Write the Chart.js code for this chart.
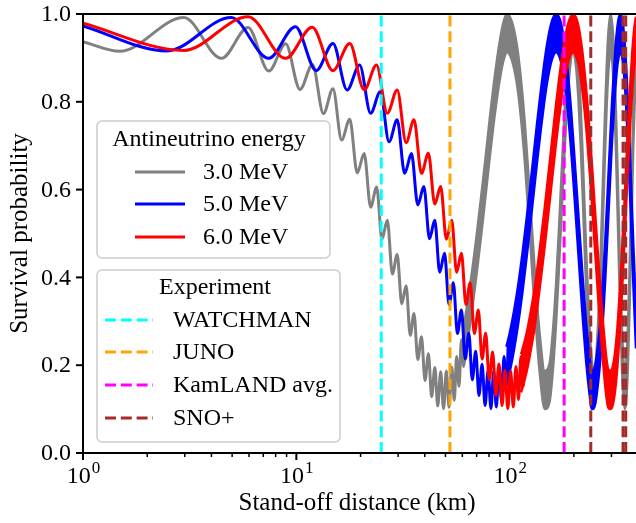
<!DOCTYPE html>
<html lang="en">
<head>
    <meta charset="UTF-8">
    <title>Reactor antineutrino survival probability</title>
    <script src="https://cdn.jsdelivr.net/npm/chart.js"></script>
    <style>
        body {
            margin: 0;
            background: #fff;
        }
        #wrap {
            position: relative;
            width: 636px;
            height: 523px;
        }
    </style>
</head>
<body>

<div id="wrap"><canvas id="survivalChart" width="636" height="523"></canvas></div>

<script>
    // Resolved oscillation (peaks / troughs), distance in km
    const distanceGray = [1.0, 1.49, 2.97, 4.46, 5.94, 7.43, 8.91, 10.4, 11.9, 13.4, 14.85, 16.3, 17.8, 19.3, 20.8, 22.3, 23.8, 25.2, 26.7, 28.2, 29.7, 31.2, 32.7, 34.2, 35.6, 37.1, 38.6, 40.1, 41.6, 43.1, 44.6, 46.0, 47.5, 49.0, 50.5, 52.0, 53.5, 55.0, 56.4, 57.9, 59.4, 60.9, 62.4];
    const survivalGray = [0.937, 0.915, 0.992, 0.899, 0.969, 0.870, 0.932, 0.828, 0.885, 0.773, 0.830, 0.713, 0.760, 0.638, 0.682, 0.560, 0.606, 0.487, 0.530, 0.408, 0.452, 0.340, 0.381, 0.268, 0.318, 0.213, 0.265, 0.165, 0.226, 0.128, 0.195, 0.107, 0.185, 0.101, 0.187, 0.104, 0.196, 0.120, 0.220, 0.152, 0.258, 0.197, 0.305];

    const distanceBlue = [1.0, 2.48, 4.95, 7.43, 9.9, 12.4, 14.85, 17.3, 19.8, 22.3, 24.75, 27.2, 29.7, 32.2, 34.65, 37.1, 39.6, 42.1, 44.55, 47.0, 49.5, 52.0, 54.45, 56.9, 59.4, 61.9, 64.35, 66.8, 69.3, 71.8, 74.25, 76.7, 79.2, 81.7, 84.2, 86.6, 89.1, 91.6, 94.1, 96.5, 99.0];
    const survivalBlue = [0.973, 0.916, 0.992, 0.899, 0.971, 0.871, 0.933, 0.827, 0.884, 0.774, 0.823, 0.709, 0.759, 0.637, 0.682, 0.565, 0.607, 0.488, 0.530, 0.412, 0.455, 0.338, 0.388, 0.272, 0.326, 0.214, 0.273, 0.167, 0.232, 0.131, 0.202, 0.108, 0.188, 0.101, 0.187, 0.105, 0.197, 0.122, 0.220, 0.152, 0.258];

    const distanceRed = [1.0, 2.97, 5.94, 8.91, 11.88, 14.85, 17.8, 20.8, 23.75, 26.7, 29.7, 32.7, 35.6, 38.6, 41.6, 44.55, 47.5, 50.5, 53.5, 56.4, 59.4, 62.4, 65.3, 68.3, 71.3, 74.25, 77.2, 80.2, 83.2, 86.1, 89.1, 92.1, 95.0, 98.0, 101, 104, 107, 110, 113, 116];
    const survivalRed = [0.979, 0.917, 0.994, 0.899, 0.970, 0.871, 0.933, 0.827, 0.884, 0.774, 0.827, 0.707, 0.759, 0.637, 0.683, 0.567, 0.607, 0.487, 0.530, 0.412, 0.455, 0.338, 0.388, 0.272, 0.326, 0.214, 0.273, 0.167, 0.230, 0.131, 0.203, 0.108, 0.188, 0.101, 0.187, 0.105, 0.197, 0.122, 0.220, 0.152];

    // Far distances: oscillation too fast to resolve, kept as top / bottom edge of the band
    const bandGrayDistance = [60.9, 65, 70, 75, 80, 85, 90, 94, 97, 102, 108, 113, 118, 123, 128, 133, 138, 146, 154, 160, 165, 170, 175, 180, 185, 190, 198, 205, 210, 215, 220, 225, 230, 235, 240, 247, 255, 260, 265, 270, 275, 280, 285, 290, 297, 305, 310, 315, 320, 325, 330, 335, 340, 346, 352, 358, 365, 372, 380, 391];
    const bandGrayUpper = [0.287, 0.375, 0.495, 0.620, 0.745, 0.855, 0.940, 0.985, 1.0, 0.985, 0.930, 0.850, 0.745, 0.618, 0.490, 0.372, 0.275, 0.187, 0.205, 0.286, 0.384, 0.503, 0.632, 0.756, 0.863, 0.945, 1.0, 0.964, 0.894, 0.794, 0.673, 0.545, 0.422, 0.316, 0.237, 0.187, 0.227, 0.300, 0.402, 0.524, 0.653, 0.775, 0.879, 0.955, 1.0, 0.955, 0.879, 0.775, 0.652, 0.524, 0.403, 0.300, 0.227, 0.187, 0.207, 0.280, 0.422, 0.597, 0.793, 0.974];
    const bandGrayLower = [0.200, 0.288, 0.408, 0.533, 0.658, 0.768, 0.853, 0.898, 0.913, 0.898, 0.843, 0.763, 0.658, 0.531, 0.403, 0.285, 0.188, 0.100, 0.118, 0.199, 0.297, 0.416, 0.545, 0.669, 0.776, 0.858, 0.913, 0.877, 0.807, 0.707, 0.586, 0.458, 0.335, 0.229, 0.150, 0.100, 0.140, 0.213, 0.315, 0.437, 0.566, 0.688, 0.792, 0.868, 0.913, 0.868, 0.792, 0.688, 0.565, 0.437, 0.316, 0.213, 0.140, 0.100, 0.120, 0.193, 0.335, 0.510, 0.706, 0.887];

    const bandBlueDistance = [96.5, 100, 105, 110, 115, 120, 125, 130, 135, 140, 145, 150, 157, 165, 172, 180, 187, 194, 200, 207, 214, 221, 228, 235, 243, 252, 260, 267, 274, 281, 288, 295, 302, 309, 316, 323, 330, 338, 346, 354, 362, 370, 380, 391];
    const bandBlueUpper = [0.242, 0.272, 0.325, 0.387, 0.457, 0.532, 0.609, 0.685, 0.759, 0.825, 0.884, 0.933, 0.980, 1.0, 0.987, 0.940, 0.870, 0.780, 0.691, 0.585, 0.482, 0.384, 0.299, 0.236, 0.187, 0.200, 0.250, 0.310, 0.395, 0.490, 0.595, 0.700, 0.800, 0.880, 0.945, 0.985, 1.0, 0.984, 0.933, 0.851, 0.745, 0.625, 0.472, 0.325];
    const bandBlueLower = [0.157, 0.185, 0.238, 0.300, 0.370, 0.445, 0.522, 0.598, 0.672, 0.738, 0.797, 0.846, 0.893, 0.913, 0.900, 0.853, 0.783, 0.693, 0.604, 0.498, 0.395, 0.297, 0.212, 0.149, 0.100, 0.113, 0.163, 0.223, 0.308, 0.403, 0.508, 0.613, 0.713, 0.793, 0.858, 0.898, 0.913, 0.897, 0.846, 0.764, 0.658, 0.538, 0.385, 0.238];

    const bandRedDistance = [113, 115, 120, 125, 130, 135, 140, 145, 150, 155, 160, 165, 170, 175, 180, 187, 198, 208, 215, 222, 230, 238, 245, 252, 260, 268, 275, 283, 290, 296, 304, 312, 320, 328, 336, 344, 352, 360, 368, 376, 384, 391];
    const bandRedUpper = [0.225, 0.237, 0.272, 0.316, 0.365, 0.422, 0.484, 0.546, 0.610, 0.673, 0.735, 0.794, 0.847, 0.894, 0.933, 0.974, 1.0, 0.981, 0.944, 0.890, 0.812, 0.719, 0.631, 0.541, 0.442, 0.352, 0.286, 0.222, 0.190, 0.187, 0.196, 0.229, 0.286, 0.362, 0.455, 0.553, 0.657, 0.756, 0.844, 0.916, 0.968, 0.994];
    const bandRedLower = [0.138, 0.150, 0.185, 0.229, 0.278, 0.335, 0.397, 0.459, 0.523, 0.586, 0.648, 0.707, 0.760, 0.807, 0.846, 0.887, 0.913, 0.894, 0.857, 0.803, 0.725, 0.632, 0.544, 0.454, 0.355, 0.265, 0.199, 0.135, 0.103, 0.100, 0.109, 0.142, 0.199, 0.275, 0.368, 0.466, 0.570, 0.669, 0.757, 0.829, 0.881, 0.907];

    const energyLabels = ['3.0 MeV', '5.0 MeV', '6.0 MeV'];
    const energyColors = ['#808080', '#0000ff', '#ff0000'];

    const experimentNames = ['WATCHMAN', 'JUNO', 'KamLAND avg.', 'SNO+'];
    const experimentDistances = [[25], [52.5], [180], [240, 340, 350]];
    const experimentColors = ['#00ffff', '#ffa500', '#ff00ff', '#a52a2a'];

    const yTicks = [0, 0.2, 0.4, 0.6, 0.8, 1.0];
    const yTickLabels = ['0.0', '0.2', '0.4', '0.6', '0.8', '1.0'];
    const xMajorTicks = [1, 10, 100];
    const xTickExponents = ['0', '1', '2'];
    const xMinorTicks = [2, 3, 4, 5, 6, 7, 8, 9, 20, 30, 40, 50, 60, 70, 80, 90, 200, 300];

    const FONT = '"Liberation Serif", "DejaVu Serif", serif';
    const DASH = [11, 4.8];

    function toPoints(xs, ys) {
        return xs.map((x, i) => ({ x: x, y: ys[i] }));
    }

    const datasets = [];

    // dashed experiment lines on top
    experimentDistances.forEach((list, i) => {
        list.forEach(d => {
            datasets.push({
                data: [{ x: d, y: 0 }, { x: d, y: 1 }],
                borderColor: experimentColors[i],
                borderWidth: 3,
                borderDash: DASH,
                pointRadius: 0
            });
        });
    });

    // curves: red above blue above gray
    const curves = [
        [distanceRed, survivalRed, bandRedDistance, bandRedUpper, bandRedLower, 2],
        [distanceBlue, survivalBlue, bandBlueDistance, bandBlueUpper, bandBlueLower, 1],
        [distanceGray, survivalGray, bandGrayDistance, bandGrayUpper, bandGrayLower, 0]
    ];
    curves.forEach(c => {
        const color = energyColors[c[5]];
        datasets.push({
            data: toPoints(c[0], c[1]),
            borderColor: color,
            borderWidth: 3,
            pointRadius: 0,
            cubicInterpolationMode: 'monotone'
        });
        datasets.push({
            data: toPoints(c[2], c[3]),
            borderColor: color,
            borderWidth: 2.5,
            pointRadius: 0,
            cubicInterpolationMode: 'monotone'
        });
        datasets.push({
            data: toPoints(c[2], c[4]),
            borderColor: color,
            backgroundColor: color,
            borderWidth: 2.5,
            pointRadius: 0,
            cubicInterpolationMode: 'monotone',
            fill: '-1'
        });
    });

    function legendBox(ctx, x, y, w, h) {
        ctx.beginPath();
        ctx.roundRect(x, y, w, h, 5);
        ctx.fillStyle = 'rgba(255,255,255,0.85)';
        ctx.fill();
        ctx.strokeStyle = '#cccccc';
        ctx.lineWidth = 1.5;
        ctx.stroke();
        ctx.fillStyle = '#000';
    }

    const decor = {
        id: 'decor',
        afterDraw(chart) {
            const { ctx, chartArea: a, scales: { x, y } } = chart;
            ctx.save();

            // spines
            ctx.strokeStyle = '#000';
            ctx.lineWidth = 2;
            ctx.lineCap = 'square';
            ctx.beginPath();
            ctx.moveTo(a.right + 2, a.top);
            ctx.lineTo(a.left, a.top);
            ctx.lineTo(a.left, a.bottom);
            ctx.lineTo(a.right + 2, a.bottom);
            ctx.stroke();
            ctx.lineCap = 'butt';

            // y ticks
            ctx.fillStyle = '#000';
            ctx.font = '24px ' + FONT;
            ctx.textAlign = 'right';
            ctx.textBaseline = 'middle';
            yTicks.forEach((v, i) => {
                const py = y.getPixelForValue(v);
                ctx.lineWidth = 2;
                ctx.beginPath();
                ctx.moveTo(a.left, py);
                ctx.lineTo(a.left - 7, py);
                ctx.stroke();
                ctx.fillText(yTickLabels[i], a.left - 12, py + 1);
            });

            // x ticks
            xMinorTicks.forEach(v => {
                const px = x.getPixelForValue(v);
                ctx.lineWidth = 1.5;
                ctx.beginPath();
                ctx.moveTo(px, a.bottom);
                ctx.lineTo(px, a.bottom + 4);
                ctx.stroke();
            });
            ctx.textBaseline = 'alphabetic';
            xMajorTicks.forEach((v, i) => {
                const px = x.getPixelForValue(v);
                ctx.lineWidth = 2;
                ctx.beginPath();
                ctx.moveTo(px, a.bottom);
                ctx.lineTo(px, a.bottom + 7);
                ctx.stroke();
                ctx.font = '24px ' + FONT;
                const wBase = ctx.measureText('10').width;
                ctx.font = '17px ' + FONT;
                const wExp = ctx.measureText(xTickExponents[i]).width;
                const left = px - (wBase + wExp) / 2;
                ctx.textAlign = 'left';
                ctx.font = '24px ' + FONT;
                ctx.fillText('10', left, 483);
                ctx.font = '17px ' + FONT;
                ctx.fillText(xTickExponents[i], left + wBase + 1, 473);
            });

            // axis titles
            ctx.font = '25px ' + FONT;
            ctx.textAlign = 'center';
            ctx.textBaseline = 'middle';
            ctx.fillText('Stand-off distance (km)', 357, 503);
            ctx.save();
            ctx.translate(20, (a.top + a.bottom) / 2);
            ctx.rotate(-Math.PI / 2);
            ctx.fillText('Survival probability', 0, 0);
            ctx.restore();

            // legend: energies
            legendBox(ctx, 97, 121, 233, 137);
            ctx.font = '24px ' + FONT;
            ctx.textAlign = 'center';
            ctx.fillText('Antineutrino energy', 209, 140);
            ctx.textAlign = 'left';
            const eRows = [172, 204, 237];
            energyLabels.forEach((lab, i) => {
                ctx.strokeStyle = energyColors[i];
                ctx.lineWidth = 3;
                ctx.beginPath();
                ctx.moveTo(135, eRows[i]);
                ctx.lineTo(185, eRows[i]);
                ctx.stroke();
                ctx.fillStyle = '#000';
                ctx.fillText(lab, 203, eRows[i] + 1);
            });

            // legend: experiments
            legendBox(ctx, 97, 270, 243, 172);
            ctx.textAlign = 'center';
            ctx.fillText('Experiment', 215, 288);
            ctx.textAlign = 'left';
            const xRows = [320, 352, 385, 418];
            experimentNames.forEach((lab, i) => {
                ctx.strokeStyle = experimentColors[i];
                ctx.lineWidth = 3;
                ctx.setLineDash(DASH);
                ctx.beginPath();
                ctx.moveTo(105, xRows[i]);
                ctx.lineTo(153, xRows[i]);
                ctx.stroke();
                ctx.setLineDash([]);
                ctx.fillStyle = '#000';
                ctx.fillText(lab, 173, xRows[i] + 1);
            });

            ctx.restore();
        }
    };

    new Chart(document.getElementById('survivalChart').getContext('2d'), {
        type: 'line',
        data: { datasets: datasets },
        options: {
            responsive: false,
            animation: false,
            devicePixelRatio: 1,
            layout: { padding: { top: 14, right: 0, left: 0, bottom: 0 } },
            plugins: {
                legend: { display: false },
                tooltip: { enabled: false }
            },
            scales: {
                x: {
                    type: 'logarithmic',
                    min: 1,
                    max: 391,
                    ticks: { display: false },
                    grid: { display: false },
                    border: { display: false },
                    afterFit(s) { s.height = 70; }
                },
                y: {
                    min: 0,
                    max: 1,
                    ticks: { display: false },
                    grid: { display: false },
                    border: { display: false },
                    afterFit(s) { s.width = 83; }
                }
            }
        },
        plugins: [decor]
    });
</script>

</body>
</html>
